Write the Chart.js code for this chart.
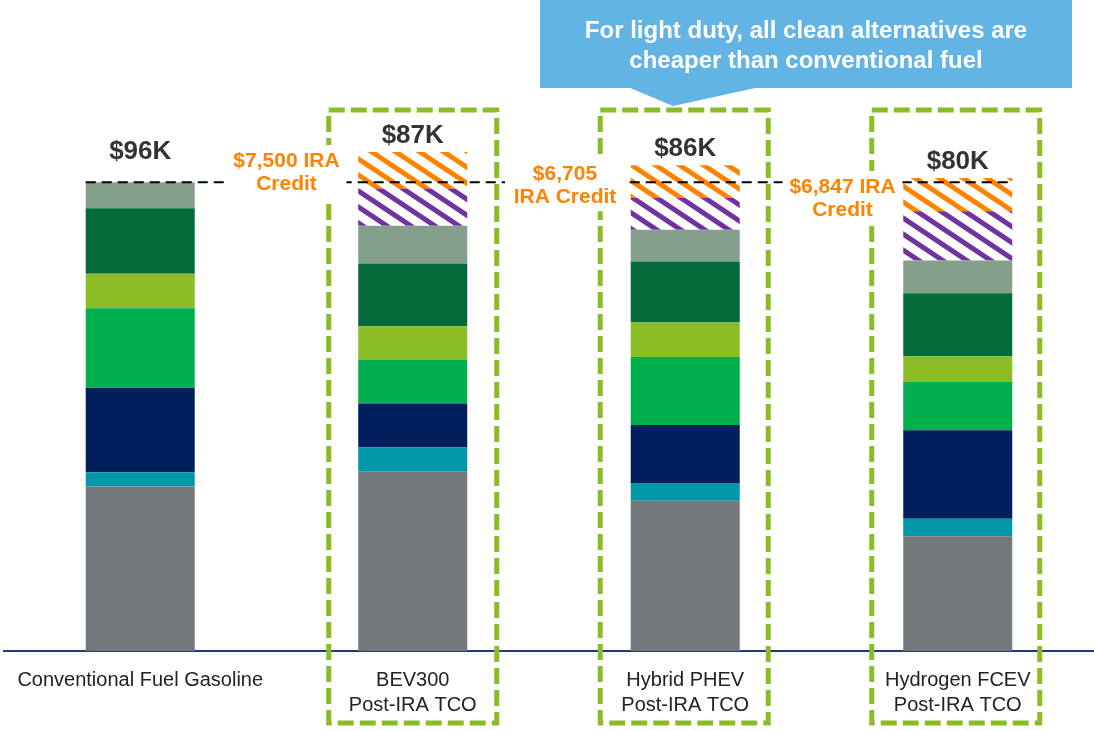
<!DOCTYPE html>
<html>
<head>
<meta charset="utf-8">
<script src="https://cdn.jsdelivr.net/npm/chart.js"></script>
<style>
  html, body { margin: 0; padding: 0; background: #fff; }
  #wrap { width: 1094px; height: 731px; position: relative; }
</style>
</head>
<body>
<div id="wrap"><canvas id="chart"></canvas></div>
<script>
// categories and stacked cost segments ($K), bottom to top
const categories = [
  'Conventional Fuel Gasoline',
  ['BEV300', 'Post-IRA TCO'],
  ['Hybrid PHEV', 'Post-IRA TCO'],
  ['Hydrogen FCEV', 'Post-IRA TCO'],
];
const grey      = [33.7, 36.8, 30.8, 23.5];
const teal      = [2.9, 4.9, 3.6, 3.6];
const navy      = [17.3, 9.0, 11.9, 18.1];
const green     = [16.3, 9.0, 13.9, 9.9];
const lime      = [7.1, 6.8, 7.1, 5.3];
const darkGreen = [13.4, 12.9, 12.5, 12.9];
const sage      = [5.3, 7.7, 6.5, 6.7];
const otherCredit = [0, 7.6, 6.5, 10.1];   // purple hatch
const iraCredit   = [0, 7.5, 6.7, 6.8];    // orange hatch

const totalLabels = ['$96K', '$87K', '$86K', '$80K'];
const creditLabels = [
  ['$7,500 IRA', 'Credit'],
  ['$6,705', 'IRA Credit'],
  ['$6,847 IRA', 'Credit'],
];
const calloutText = ['For light duty, all clean alternatives are', 'cheaper than conventional fuel'];

const FONT = '"Liberation Sans", Arial, Helvetica, sans-serif';
const ORANGE = '#ff8200';
const PURPLE = '#7030a0';
const BOX_GREEN = '#8abd24';

function hatch(color) {
  const c = document.createElement('canvas');
  c.width = 24; c.height = 16;
  const g = c.getContext('2d');
  g.fillStyle = '#fff';
  g.fillRect(0, 0, 24, 16);
  g.strokeStyle = color;
  g.lineWidth = 5;
  for (let k = -1; k <= 1; k++) {
    g.beginPath();
    g.moveTo(k * 24 - 24, -16);
    g.lineTo(k * 24 + 48, 32);
    g.stroke();
  }
  return g.createPattern(c, 'repeat');
}

const ctx = document.getElementById('chart').getContext('2d');

const seg = (label, data, color) => ({
  label, data, backgroundColor: color, borderWidth: 0,
  barPercentage: 0.4, categoryPercentage: 1.0,
});

const overlay = {
  id: 'overlay',
  afterDraw(chart) {
    const c = chart.ctx;
    const x = chart.scales.x;
    const y = chart.scales.y;
    const bars = chart.getDatasetMeta(0).data;
    const n = categories.length;

    const stackTop = (i) => {
      let top = 0;
      chart.data.datasets.forEach(ds => { top += ds.data[i]; });
      return y.getPixelForValue(top);
    };

    c.save();

    // dashed green boxes around the clean alternatives
    c.strokeStyle = BOX_GREEN;
    c.lineWidth = 5;
    c.setLineDash([16, 6]);
    for (let i = 1; i < n; i++) {
      const cx = x.getPixelForValue(i) - (i - 1);
      c.strokeRect(cx - 84, 110, 168, 613);
    }

    // reference line at conventional total
    const refY = y.getPixelForValue(grey[0] + teal[0] + navy[0] + green[0] + lime[0] + darkGreen[0] + sage[0]);
    const bw = bars[0].width;
    c.strokeStyle = '#000';
    c.lineWidth = 2;
    c.setLineDash([10, 6]);
    c.beginPath();
    c.moveTo(bars[0].x - bw / 2, refY);
    c.lineTo(bars[n - 1].x + bw / 2, refY);
    c.stroke();
    c.setLineDash([]);

    // IRA credit labels between bars
    const labelShift = [10, 16, 21];
    c.font = 'bold 21px ' + FONT;
    c.textAlign = 'center';
    c.textBaseline = 'middle';
    creditLabels.forEach((lines, k) => {
      const lx = (bars[k].x + bars[k + 1].x) / 2 + labelShift[k];
      const ly = stackTop(k + 1) + 9;
      c.fillStyle = '#fff';
      c.fillRect(lx - 60, ly - 16, 120, 23 + 30);
      c.fillStyle = ORANGE;
      lines.forEach((t, j) => c.fillText(t, lx, ly + j * 23));
    });

    // totals above each bar
    c.font = 'bold 26px ' + FONT;
    c.fillStyle = '#333';
    totalLabels.forEach((t, i) => {
      const hasCredit = iraCredit[i] + otherCredit[i] > 0;
      c.fillText(t, bars[i].x, stackTop(i) - (hasCredit ? 16 : 31));
    });

    // callout box
    c.fillStyle = '#62b4e5';
    c.fillRect(540, 0, 532, 88);
    c.beginPath();
    c.moveTo(628, 87);
    c.lineTo(760, 87);
    c.lineTo(673, 106);
    c.closePath();
    c.fill();
    c.fillStyle = '#fff';
    c.font = 'bold 24px ' + FONT;
    calloutText.forEach((t, j) => c.fillText(t, 806, 31 + j * 30));

    c.restore();
  }
};

new Chart(ctx, {
  type: 'bar',
  data: {
    labels: categories,
    datasets: [
      seg('Grey', grey, '#75787b'),
      seg('Teal', teal, '#0097a9'),
      seg('Navy', navy, '#001f5c'),
      seg('Green', green, '#00b04f'),
      seg('Lime', lime, '#8abd26'),
      seg('Dark green', darkGreen, '#036b3a'),
      seg('Sage', sage, '#849f8b'),
      seg('Other credit', otherCredit, hatch(PURPLE)),
      seg('IRA credit', iraCredit, hatch(ORANGE)),
    ],
  },
  options: {
    responsive: true,
    maintainAspectRatio: false,
    animation: false,
    layout: { padding: { top: 114, left: 3, right: 0, bottom: 0 } },
    plugins: { legend: { display: false }, tooltip: { enabled: false } },
    scales: {
      x: {
        stacked: true,
        grid: { display: false, drawTicks: false },
        border: { display: true, color: '#1d3a82', width: 2 },
        ticks: {
          padding: 17,
          color: '#222',
          maxRotation: 0,
          autoSkip: false,
          font: { family: FONT, size: 20, lineHeight: 1.25 },
        },
        afterFit: (s) => { s.height = 80; },
      },
      y: { stacked: true, display: false, min: 0, max: 110 },
    },
  },
  plugins: [overlay],
});
</script>
</body>
</html>
